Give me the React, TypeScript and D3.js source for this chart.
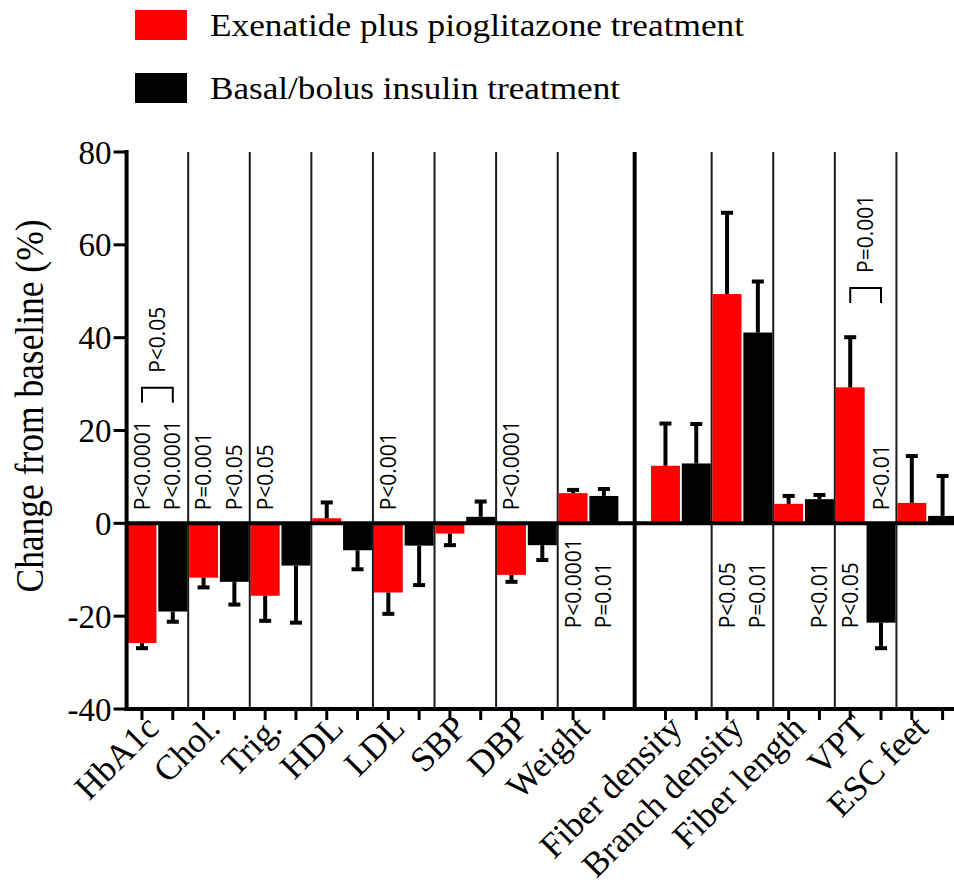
import React from 'react';
import * as d3 from 'd3';

// categories, in drawing order (a gap slot follows the divider group)
const groups = [
  'HbA1c', 'Chol.', 'Trig.', 'HDL', 'LDL', 'SBP', 'DBP', 'Weight',
  'Fiber density', 'Branch density', 'Fiber length', 'VPT', 'ESC feet'
];
const dividerAfter = 'Weight';

// % change from baseline, mean and SEM
const exenatide = [-25.8, -11.7, -15.6, 1.1, -14.9, -2.2, -11.1, 6.5, 12.4, 49.4, 4.2, 29.3, 4.4];
const exenatideErr = [1.1, 2.1, 5.4, 3.4, 4.6, 2.5, 1.5, 0.7, 9.1, 17.5, 1.7, 10.8, 10.1];
const insulin = [-19.0, -12.6, -9.1, -5.8, -4.8, 1.4, -4.7, 5.9, 12.9, 41.1, 5.2, -21.4, 1.6];
const insulinErr = [2.2, 4.9, 12.3, 4.1, 8.5, 3.3, 3.2, 1.5, 8.5, 11.0, 0.9, 5.5, 8.6];

const seriesNames = ['Exenatide plus pioglitazone treatment', 'Basal/bolus insulin treatment'];
const seriesColors = ['#ff0000', '#000000'];
const yTicks = [80, 60, 40, 20, 0, -20, -40];

// p-value notes: series 0 = exenatide, 1 = insulin
const pNotes = [
  { group: 'HbA1c', series: 0, label: 'P<0.0001', below: false },
  { group: 'HbA1c', series: 1, label: 'P<0.0001', below: false },
  { group: 'Chol.', series: 0, label: 'P=0.001', below: false },
  { group: 'Chol.', series: 1, label: 'P<0.05', below: false },
  { group: 'Trig.', series: 0, label: 'P<0.05', below: false },
  { group: 'LDL', series: 0, label: 'P<0.001', below: false },
  { group: 'DBP', series: 0, label: 'P<0.0001', below: false },
  { group: 'Weight', series: 0, label: 'P<0.0001', below: true },
  { group: 'Weight', series: 1, label: 'P=0.01', below: true },
  { group: 'Branch density', series: 0, label: 'P<0.05', below: true },
  { group: 'Branch density', series: 1, label: 'P=0.01', below: true },
  { group: 'Fiber length', series: 1, label: 'P<0.01', below: true },
  { group: 'VPT', series: 0, label: 'P<0.05', below: true },
  { group: 'VPT', series: 1, label: 'P<0.01', below: false }
];
// between-treatment comparisons
const brackets = [
  { group: 'HbA1c', level: 29.2, label: 'P<0.05' },
  { group: 'VPT', level: 50.7, label: 'P=0.001' }
];

const W = 954;
const H = 888;
const serif = "'Liberation Serif', 'Times New Roman', serif";
const sans = "'Open Sans', 'DejaVu Sans', sans-serif";

const App: React.FC = () => {
  const slots: string[] = [];
  groups.forEach(g => {
    slots.push(`${g}|0`, `${g}|1`);
    if (g === dividerAfter) slots.push('gap');
  });

  const left = 126.6;
  const x = d3.scaleBand<string>()
    .domain(slots)
    .range([left, 958])
    .paddingInner(0.06)
    .paddingOuter(0.03);
  const y = d3.scaleLinear().domain([-40, 80]).range([709, 152]);

  const bw = x.bandwidth();
  const step = x.step();
  const edge = (s: string) => (x(s) as number) - step * 0.03;
  const center = (s: string) => (x(s) as number) + bw / 2;
  const groupCenter = (g: string) => (center(`${g}|0`) + center(`${g}|1`)) / 2;
  const y0 = y(0);
  const yTop = y(80);
  const yBot = y(-40);

  const values = [exenatide, insulin];
  const errs = [exenatideErr, insulinErr];

  // group separators
  const thinLines: number[] = [];
  groups.forEach((g, i) => {
    if (i === 0 || groups[i - 1] === dividerAfter) return;
    thinLines.push(edge(`${g}|0`));
  });
  const thickLine = center('gap');

  const serifStyle = { fontFamily: serif };
  const sansStyle = { fontFamily: sans };

  return (
    <svg width={W} height={H} style={{ position: 'absolute', left: 0, top: 0, background: '#fff' }}>
      {/* legend */}
      {seriesNames.map((name, i) => (
        <g key={name}>
          <rect x={135} y={10 + i * 63} width={52} height={30} fill={seriesColors[i]} />
          <text x={210} y={36 + i * 63} style={serifStyle} fontSize={32}
            textLength={i === 0 ? 534 : 410} lengthAdjust="spacingAndGlyphs">{name}</text>
        </g>
      ))}

      {/* separators */}
      {thinLines.map((lx, i) => (
        <line key={i} x1={lx} x2={lx} y1={yTop} y2={yBot} stroke="#1a1a1a" strokeWidth={2} />
      ))}
      <line x1={thickLine} x2={thickLine} y1={yTop} y2={yBot} stroke="#000" strokeWidth={4} />

      {/* bars */}
      {groups.map((g, gi) => values.map((vals, si) => {
        const v = vals[gi];
        const s = `${g}|${si}`;
        const yv = y(v);
        return (
          <rect key={s} x={x(s)} width={bw} y={Math.min(yv, y0)} height={Math.abs(yv - y0)}
            fill={seriesColors[si]} />
        );
      }))}

      {/* error bars */}
      {groups.map((g, gi) => values.map((vals, si) => {
        const v = vals[gi];
        const e = errs[si][gi];
        const s = `${g}|${si}`;
        const cx = center(s);
        const ye = y(v + (v >= 0 ? e : -e));
        return (
          <g key={s} stroke="#000" strokeWidth={4}>
            <line x1={cx} x2={cx} y1={y(v)} y2={ye} />
            <line x1={cx - 6} x2={cx + 6} y1={ye} y2={ye} />
          </g>
        );
      }))}

      {/* zero line and axes */}
      <line x1={left} x2={W} y1={y0} y2={y0} stroke="#000" strokeWidth={4} />
      <line x1={left} x2={left} y1={yTop - 2} y2={yBot + 2} stroke="#000" strokeWidth={4} />
      <line x1={left - 2} x2={W} y1={yBot} y2={yBot} stroke="#000" strokeWidth={4} />
      {yTicks.map(t => (
        <g key={t}>
          <line x1={left - 13} x2={left} y1={y(t)} y2={y(t)} stroke="#000" strokeWidth={3} />
          <text x={left - 15} y={y(t)} dy="0.35em" textAnchor="end" style={serifStyle} fontSize={33}>{t}</text>
        </g>
      ))}
      {slots.filter(s => s !== 'gap').map(s => (
        <line key={s} x1={center(s)} x2={center(s)} y1={yBot} y2={yBot + 11} stroke="#000" strokeWidth={3} />
      ))}

      {/* category labels */}
      {groups.map(g => (
        <text key={g} transform={`translate(${groupCenter(g) + 3},${yBot + 21}) rotate(-45)`}
          textAnchor="end" style={serifStyle} fontSize={35}>{g}</text>
      ))}

      {/* y title */}
      <text transform={`translate(43,406) rotate(-90)`} textAnchor="middle" style={serifStyle}
        fontSize={39} textLength={373} lengthAdjust="spacingAndGlyphs">Change from baseline (%)</text>

      {/* p-values */}
      {pNotes.map((n, i) => {
        const cx = center(`${n.group}|${n.series}`);
        const sy = n.below ? y0 + 105 : y0 - 13;
        return (
          <text key={i} transform={`translate(${cx},${sy}) rotate(-90)`} dy="0.36em"
            style={sansStyle} fontSize={21}>{n.label}</text>
        );
      })}
      {brackets.map(b => {
        const x1 = center(`${b.group}|0`);
        const x2 = center(`${b.group}|1`);
        const yb = y(b.level);
        return (
          <g key={b.group}>
            <path d={`M${x1},${yb + 15}V${yb}H${x2}V${yb + 15}`} fill="none" stroke="#000" strokeWidth={2} />
            <text transform={`translate(${(x1 + x2) / 2},${yb - 15}) rotate(-90)`} dy="0.36em"
              style={sansStyle} fontSize={21}>{b.label}</text>
          </g>
        );
      })}
    </svg>
  );
};

export default App;
